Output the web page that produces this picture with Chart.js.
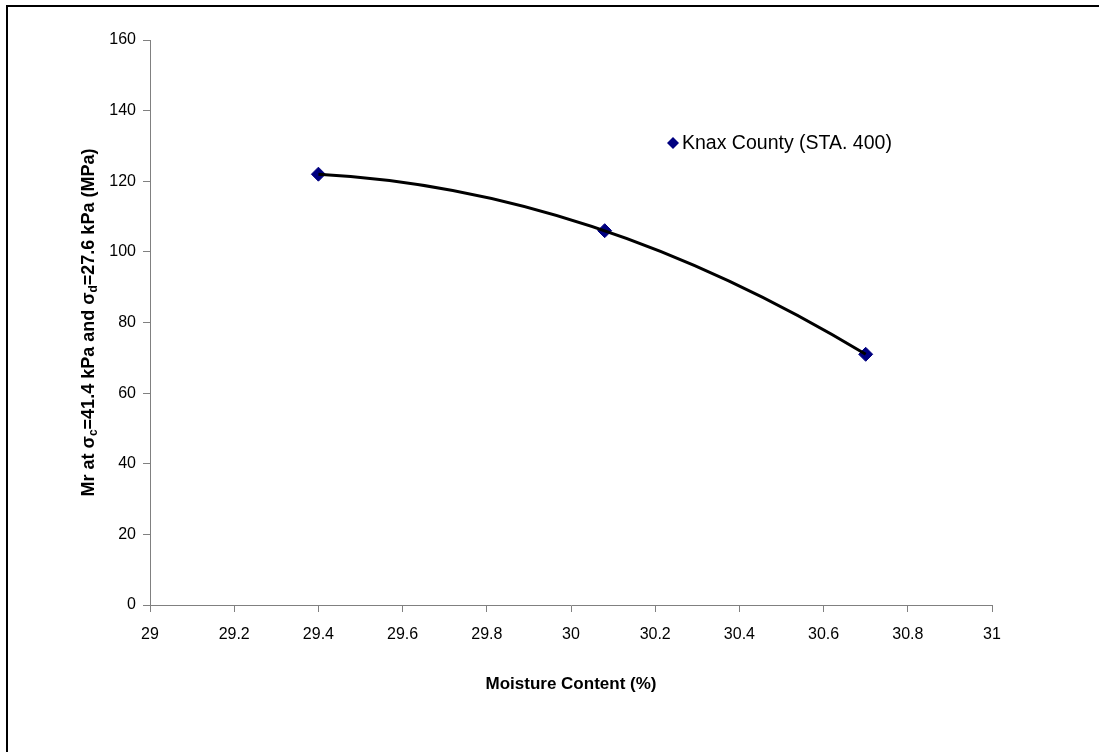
<!DOCTYPE html>
<html>
<head>
<meta charset="utf-8">
<script src="https://cdn.jsdelivr.net/npm/chart.js@4.4.1/dist/chart.umd.min.js"></script>
<style>
  html, body { margin: 0; padding: 0; background: #fff; }
  #wrap { position: relative; width: 1099px; height: 752px; overflow: hidden; }
  #frame { position: absolute; left: 6px; top: 5px; right: -10px; bottom: -10px;
           border-left: 2px solid #000; border-top: 2px solid #000; pointer-events: none; }
  canvas { position: absolute; left: 0; top: 0; }
</style>
</head>
<body>
<div id="wrap">
  <canvas id="c" width="1099" height="752"></canvas>
  <div id="frame"></div>
</div>
<script>
// Resilient modulus measurements vs. moisture content
const seriesName = 'Knax County (STA. 400)';
const moisture = [29.4, 30.08, 30.7];
const modulus = [122, 106, 71];

// Axis ticks
const xTicks = [29, 29.2, 29.4, 29.6, 29.8, 30, 30.2, 30.4, 30.6, 30.8, 31];
const xTickLabels = ['29', '29.2', '29.4', '29.6', '29.8', '30', '30.2', '30.4', '30.6', '30.8', '31'];
const yTicks = [0, 20, 40, 60, 80, 100, 120, 140, 160];
const yTickLabels = ['0', '20', '40', '60', '80', '100', '120', '140', '160'];

const xTitle = 'Moisture Content (%)';
// y-axis title pieces: [text, isSubscript]
const yTitleParts = [['Mr at σ', false], ['c', true], ['=41.4 kPa and σ', false], ['d', true], ['=27.6 kPa (MPa)', false]];

const FONT = '"Liberation Sans", Arial, sans-serif';
const AXIS_GREY = '#808080';

const points = moisture.map((x, i) => ({ x: x, y: modulus[i] }));

// Least-squares 2nd-order polynomial fit y = a + b x + c x^2 (x centred for stability)
function polyFit2(xs, ys) {
  const n = xs.length;
  const xm = xs.reduce((s, v) => s + v, 0) / n;
  let S = [0, 0, 0, 0, 0], T = [0, 0, 0];
  xs.forEach((x0, i) => {
    const x = x0 - xm;
    for (let k = 0; k < 5; k++) S[k] += Math.pow(x, k);
    for (let k = 0; k < 3; k++) T[k] += ys[i] * Math.pow(x, k);
  });
  const M = [[S[0], S[1], S[2], T[0]], [S[1], S[2], S[3], T[1]], [S[2], S[3], S[4], T[2]]];
  for (let i = 0; i < 3; i++) {
    for (let j = i + 1; j < 3; j++) {
      const f = M[j][i] / M[i][i];
      for (let k = i; k < 4; k++) M[j][k] -= f * M[i][k];
    }
  }
  const c = [0, 0, 0];
  for (let i = 2; i >= 0; i--) {
    let s = M[i][3];
    for (let k = i + 1; k < 3; k++) s -= M[i][k] * c[k];
    c[i] = s / M[i][i];
  }
  return {
    f: x => c[0] + c[1] * (x - xm) + c[2] * (x - xm) * (x - xm),
    df: x => c[1] + 2 * c[2] * (x - xm)
  };
}

// Polynomial trendline, drawn as one quadratic Bezier over the data range
const trendPlugin = {
  id: 'trendline',
  afterDatasetsDraw(chart) {
    const xs = chart.scales.x, ys = chart.scales.y;
    const fit = polyFit2(moisture, modulus);
    const x0 = Math.min(...moisture), x2 = Math.max(...moisture);
    const xm = (x0 + x2) / 2;
    const yc = fit.f(x0) + fit.df(x0) * (xm - x0);
    const ctx = chart.ctx;
    ctx.save();
    ctx.strokeStyle = '#000';
    ctx.lineWidth = 3;
    ctx.lineCap = 'butt';
    ctx.beginPath();
    ctx.moveTo(xs.getPixelForValue(x0), ys.getPixelForValue(fit.f(x0)));
    ctx.quadraticCurveTo(xs.getPixelForValue(xm), ys.getPixelForValue(yc),
                         xs.getPixelForValue(x2), ys.getPixelForValue(fit.f(x2)));
    ctx.stroke();
    ctx.restore();
  }
};

// Rotated y-axis title with subscripts
const yTitlePlugin = {
  id: 'yTitle',
  afterDraw(chart) {
    const ctx = chart.ctx;
    const mainFont = 'bold 18px ' + FONT;
    const subFont = 'bold 12px ' + FONT;
    ctx.save();
    let total = 0;
    const widths = yTitleParts.map(([t, sub]) => {
      ctx.font = sub ? subFont : mainFont;
      const w = ctx.measureText(t).width;
      total += w;
      return w;
    });
    const area = chart.chartArea;
    ctx.translate(89, (area.top + area.bottom) / 2);
    ctx.rotate(-Math.PI / 2);
    ctx.fillStyle = '#000';
    ctx.textBaseline = 'middle';
    ctx.textAlign = 'left';
    let pos = -total / 2;
    yTitleParts.forEach(([t, sub], i) => {
      ctx.font = sub ? subFont : mainFont;
      ctx.fillText(t, pos, sub ? 5 : 0);
      pos += widths[i];
    });
    ctx.restore();
  }
};

// Legend entry placed inside the plot area
const legendPlugin = {
  id: 'inlineLegend',
  afterDraw(chart) {
    const ctx = chart.ctx;
    const area = chart.chartArea;
    const mx = area.left + 523;
    const my = area.top + 103;
    const r = 6;
    ctx.save();
    ctx.fillStyle = '#000080';
    ctx.beginPath();
    ctx.moveTo(mx, my - r);
    ctx.lineTo(mx + r, my);
    ctx.lineTo(mx, my + r);
    ctx.lineTo(mx - r, my);
    ctx.closePath();
    ctx.fill();
    ctx.fillStyle = '#000';
    ctx.font = '19.5px ' + FONT;
    ctx.textBaseline = 'middle';
    ctx.textAlign = 'left';
    ctx.fillText(chart.data.datasets[0].label, mx + 9, my + 1);
    ctx.restore();
  }
};

new Chart(document.getElementById('c'), {
  type: 'scatter',
  data: {
    datasets: [
      {
        label: seriesName,
        data: points,
        showLine: false,
        pointStyle: 'rectRot',
        pointRadius: 7,
        pointHoverRadius: 7,
        backgroundColor: '#000080',
        borderColor: '#000080',
        borderWidth: 1
      }
    ]
  },
  plugins: [trendPlugin, yTitlePlugin, legendPlugin],
  options: {
    responsive: false,
    animation: false,
    events: [],
    layout: { padding: { left: 0, top: 40, right: 107, bottom: 0 } },
    plugins: {
      legend: { display: false },
      tooltip: { enabled: false },
      title: { display: false }
    },
    scales: {
      x: {
        type: 'linear',
        min: xTicks[0],
        max: xTicks[xTicks.length - 1],
        afterBuildTicks(scale) { scale.ticks = xTicks.map(v => ({ value: v })); },
        afterFit(scale) { scale.height = 147; },
        ticks: {
          callback: (v, i) => xTickLabels[i],
          color: '#000',
          font: { family: FONT, size: 16 },
          padding: 13,
          maxRotation: 0,
          autoSkip: false
        },
        grid: { drawOnChartArea: false, tickLength: 7, tickColor: AXIS_GREY, tickWidth: 1 },
        border: { color: AXIS_GREY, width: 1 },
        title: {
          display: true,
          text: xTitle,
          color: '#000',
          font: { family: FONT, size: 17, weight: 'bold' },
          padding: { top: 0, bottom: 57 }
        }
      },
      y: {
        type: 'linear',
        min: yTicks[0],
        max: yTicks[yTicks.length - 1],
        afterBuildTicks(scale) { scale.ticks = yTicks.map(v => ({ value: v })); },
        afterFit(scale) { scale.width = 150; },
        ticks: {
          callback: (v, i) => yTickLabels[i],
          color: '#000',
          font: { family: FONT, size: 16 },
          padding: 7
        },
        grid: { drawOnChartArea: false, tickLength: 7, tickColor: AXIS_GREY, tickWidth: 1 },
        border: { color: AXIS_GREY, width: 1 }
      }
    }
  }
});
</script>
</body>
</html>
